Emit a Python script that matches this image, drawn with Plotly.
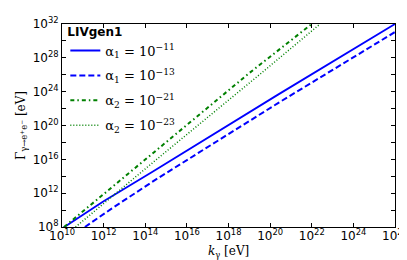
import plotly.graph_objects as go

# Data (log10 values converted to linear)
k_a1_11 = [10**10.05, 10**11.0, 10**12.0, 10**14.33, 10**20.38, 10**26.0]
g_a1_11 = [10**7.9, 10**9.45, 10**11.05, 10**14.5, 10**23.65, 10**32.0]

k_a1_13 = [10**11.1, 10**12.4, 10**14.5, 10**20.38, 10**26.0]
g_a1_13 = [10**8.0, 10**10.2, 10**13.6, 10**22.65, 10**31.05]

k_a2_21 = [10**10.1, 10**14.5, 10**19.0, 10**22.0]
g_a2_21 = [10**8.0, 10**17.0, 10**26.2, 10**32.0]

k_a2_23 = [10**10.65, 10**14.5, 10**19.58, 10**22.4]
g_a2_23 = [10**8.0, 10**15.9, 10**26.2, 10**32.0]

x_tick_exp = [10, 12, 14, 16, 18, 20, 22, 24, 26]
y_tick_exp = [8, 10, 12, 14, 16, 18, 20, 22, 24, 26, 28, 30, 32]
y_label_exp = [8, 12, 16, 20, 24, 28, 32]

names = ["α<sub>1</sub> = 10<sup>−11</sup>", "α<sub>1</sub> = 10<sup>−13</sup>",
         "α<sub>2</sub> = 10<sup>−21</sup>", "α<sub>2</sub> = 10<sup>−23</sup>"]

fig = go.Figure()
fig.add_trace(go.Scatter(x=k_a1_11, y=g_a1_11, mode="lines", name=names[0],
                         legendgroup="a", line=dict(color="#0000ff", width=1.8)))
fig.add_trace(go.Scatter(x=k_a1_13, y=g_a1_13, mode="lines", name=names[1],
                         legendgroup="b", line=dict(color="#0000ff", width=2, dash="6px,3px")))
fig.add_trace(go.Scatter(x=k_a2_21, y=g_a2_21, mode="lines", name=names[2],
                         legendgroup="c",
                         line=dict(color="#008000", width=2, dash="4px,3px,1.5px,3px")))
fig.add_trace(go.Scatter(x=k_a2_23, y=g_a2_23, mode="lines", name=names[3],
                         legendgroup="d", line=dict(color="#008000", width=1.5, dash="1px,2px")))

tickfont = dict(family="DejaVu Sans", size=12, color="black")
axis_common = dict(type="log", showline=True, linecolor="black", linewidth=1,
                   mirror="ticks", ticks="inside", ticklen=4, tickcolor="black",
                   showgrid=False, zeroline=False, tickfont=tickfont, automargin=False)

fig.update_xaxes(range=[10, 26],
                 tickvals=[10.0**e for e in x_tick_exp],
                 ticktext=[f"10<sup>{e}</sup>" for e in x_tick_exp],
                 ticklabelstandoff=-2,
                 **axis_common)
fig.update_yaxes(range=[8, 32],
                 tickvals=[10.0**e for e in y_tick_exp],
                 ticktext=[f"10<sup>{e}</sup>" if e in y_label_exp else "" for e in y_tick_exp],
                 title=dict(text="Γ<sub>γ→e<sup>+</sup>e<sup>−</sup></sub> [eV]",
                            font=dict(family="DejaVu Serif", size=12, color="black"),
                            standoff=4),
                 **axis_common)

fig.add_annotation(text="<i>k</i><sub>γ</sub> [eV]", xref="paper", yref="paper",
                   x=0.5, y=-0.125, xanchor="center", yanchor="middle", showarrow=False,
                   font=dict(family="DejaVu Serif", size=12, color="black"))

fig.update_layout(
    width=407, height=260,
    margin=dict(l=54, r=20, t=12, b=41),
    paper_bgcolor="white", plot_bgcolor="white",
    legend=dict(x=0.01, y=1.02, xanchor="left", yanchor="top",
                bgcolor="rgba(0,0,0,0)", borderwidth=0,
                font=dict(family="DejaVu Serif", size=13, color="black"),
                title=dict(text="<b>LIVgen1</b>",
                           font=dict(family="DejaVu Sans", size=12, color="black")),
                itemwidth=30, tracegroupgap=5),
)

fig.write_html("out.html")
